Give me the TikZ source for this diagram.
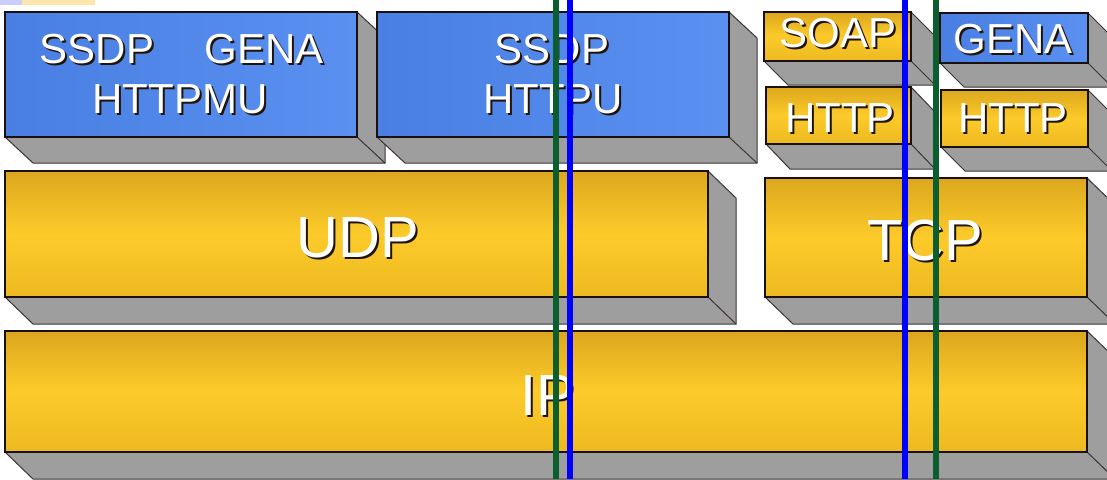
\documentclass[tikz,border=0pt]{standalone}
\usepackage{fontspec}
\setmainfont{Liberation Sans}
\definecolor{edge}{HTML}{1A1010}
\definecolor{sidegray}{HTML}{9E9E9E}
\definecolor{blueA}{HTML}{497FE2}
\definecolor{blueB}{HTML}{5A90F0}
\definecolor{goldA}{HTML}{DCA71E}
\definecolor{goldB}{HTML}{FCCB2A}
\definecolor{goldC}{HTML}{EDB921}
\definecolor{txtshade}{HTML}{20140A}
\definecolor{markgreen}{HTML}{0B5E2E}
\definecolor{markblue}{HTML}{0000FF}
\tikzset{
  face/.style={draw=edge, line width=1.5pt, inner sep=0pt, rectangle},
  blueface/.style={face, left color=blueA, right color=blueB},
  goldface/.style={face, top color=goldA, bottom color=goldC, middle color=goldB},
  sidefill/.style={fill=sidegray},
  sideedge/.style={draw=edge!85, line width=1pt},
  lbl/.style={font=\fontsize{42}{42}\selectfont, anchor=base, inner sep=0pt},
  lblbig/.style={font=\fontsize{58}{58}\selectfont, anchor=base, inner sep=0pt},
  marker/.style={line width=5.5pt},
}
% #1 name, #2 x0, #3 y0, #4 x1, #5 y1, #6 dx, #7 dy, #8 face style
\newcommand\slab[8]{%
  \fill[sidefill] (#2,#5) -- ({#2+#6},{#5+#7}) -- ({#4+#6},{#5+#7})
     -- ({#4+#6},{#3+#7}) -- (#4,#3) -- (#4,#5) -- cycle;
  \draw[sideedge] (#2,#5) -- ({#2+#6},{#5+#7}) -- ({#4+#6},{#5+#7})
     -- ({#4+#6},{#3+#7}) -- (#4,#3);
  \draw[sideedge] (#4,#5) -- ({#4+#6},{#5+#7});
  \node[#8, minimum width={#4-#2}, minimum height={#5-#3}] (#1)
     at ({(#2+#4)/2},{(#3+#5)/2}) {};
}
% embossed label: #1 style, #2 name, #3 x, #4 baseline y, #5 text
\newcommand\embossed[5]{%
  \node[#1, text=txtshade] (#2s) at ({#3+2},{#4+2}) {#5};
  \node[#1, text=white] (#2) at (#3,#4) {#5};
}
\begin{document}
\begin{tikzpicture}[x=1pt, y=-1pt]
  \fill[white] (0,0) rectangle (1107,479);
  \useasboundingbox (0,0) rectangle (1107,479);
  \clip (0,0) rectangle (1107,479);
  \fill[blue!20] (0,0) rectangle (22,5);
  \fill[yellow!40!orange!30] (22,0) rectangle (95,5);

  % application layer
  \slab{appA}{5}{12}{357}{137}{28}{26}{blueface}
  \slab{appB}{377}{12}{729}{137}{28}{26}{blueface}
  \slab{soap}{764}{12}{911}{61}{24}{24}{goldface}
  \slab{genaR}{940}{13}{1088}{63}{24}{24}{blueface}
  \slab{httpL}{766}{87}{911}{144}{24}{25}{goldface}
  \slab{httpR}{941}{90}{1088}{147}{24}{24}{goldface}
  % transport layer
  \slab{udp}{5}{171}{708}{297}{28}{27}{goldface}
  \slab{tcp}{765}{178}{1087}{297}{28}{27}{goldface}
  % network layer
  \slab{ip}{5}{331}{1087}{452}{28}{27}{goldface}

  \embossed{lbl}{tSsdpA}{97}{63}{SSDP}
  \embossed{lbl}{tGenaA}{264}{63}{GENA}
  \embossed{lbl}{tHttpmu}{180}{113}{HTTPMU}
  \embossed{lbl}{tSsdpB}{552}{63}{SSDP}
  \embossed{lbl}{tHttpu}{553}{113}{HTTPU}
  \embossed{lbl}{tSoap}{838}{47}{SOAP}
  \embossed{lbl}{tGenaR}{1013}{53}{GENA}
  \embossed{lbl}{tHttpL}{840}{132}{HTTP}
  \embossed{lbl}{tHttpR}{1013}{132}{HTTP}
  \embossed{lblbig}{tUdp}{358}{257}{UDP}
  \embossed{lblbig}{tTcp}{925}{260}{TCP}
  \embossed{lblbig}{tIp}{548}{415}{IP}

  % vertical markers
  \draw[marker, markgreen] (556,0) -- (556,479);
  \draw[marker, markblue] (570,0) -- (570,479);
  \draw[marker, markblue] (905,0) -- (905,479);
  \draw[marker, markgreen] (936,0) -- (936,479);
\end{tikzpicture}
\end{document}
